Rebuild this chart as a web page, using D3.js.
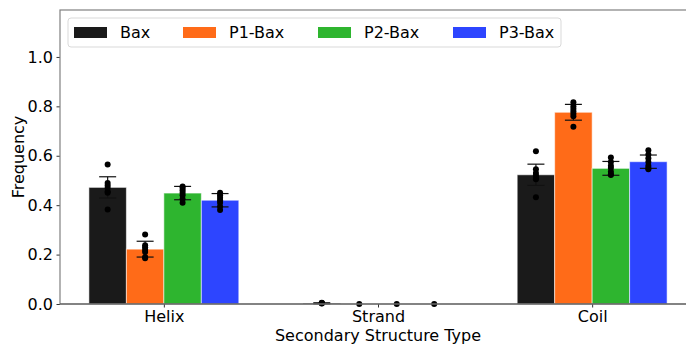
<!DOCTYPE html>
<html>
<head>
<meta charset="utf-8">
<script src="https://cdn.jsdelivr.net/npm/d3@7"></script>
<style>
  body { margin: 0; background: #fff; }
  svg { display: block; font-family: "DejaVu Sans", sans-serif; }
</style>
</head>
<body>
<div id="chart"></div>
<script>
const categories = ["Helix", "Strand", "Coil"];
const seriesNames = ["Bax", "P1-Bax", "P2-Bax", "P3-Bax"];
const colours = ["#1a1a1a", "#ff6b18", "#2eb52f", "#2d45ff"];

// bar heights (mean) per series, in category order
const baxMean = [0.472, 0.003, 0.523];
const p1Mean = [0.222, 0.0, 0.776];
const p2Mean = [0.449, 0.0, 0.549];
const p3Mean = [0.420, 0.0, 0.576];

// error bar half widths
const baxErr = [0.043, 0.002, 0.043];
const p1Err = [0.032, 0.0, 0.032];
const p2Err = [0.027, 0.0, 0.028];
const p3Err = [0.027, 0.0, 0.027];

// individual replicate values
const baxPoints = [
  [0.565, 0.49, 0.48, 0.47, 0.455, 0.45, 0.383],
  [0.005, 0.004, 0.003, 0.002],
  [0.618, 0.545, 0.53, 0.52, 0.51, 0.505, 0.432]
];
const p1Points = [
  [0.281, 0.238, 0.23, 0.22, 0.21, 0.19, 0.185],
  [0.0],
  [0.817, 0.80, 0.79, 0.78, 0.77, 0.76, 0.717]
];
const p2Points = [
  [0.476, 0.47, 0.46, 0.45, 0.44, 0.425, 0.41],
  [0.0],
  [0.593, 0.575, 0.56, 0.55, 0.535, 0.525, 0.522]
];
const p3Points = [
  [0.45, 0.44, 0.43, 0.42, 0.41, 0.395, 0.38],
  [0.0],
  [0.622, 0.605, 0.59, 0.575, 0.56, 0.55, 0.545]
];

const yTicks = [0.0, 0.2, 0.4, 0.6, 0.8, 1.0];

const means = [baxMean, p1Mean, p2Mean, p3Mean];
const errs = [baxErr, p1Err, p2Err, p3Err];
const points = [baxPoints, p1Points, p2Points, p3Points];

const W = 686, H = 345;
const margin = { top: 10, left: 60, bottom: 41, right: -10 };
const barW = 0.175;
const fs = "16px";

const svg = d3.select("#chart")
  .append("svg")
  .attr("width", W)
  .attr("height", H);

const x = d3.scaleLinear()
  .domain([-0.485, 2.485])
  .range([margin.left, W - margin.right]);

const y = d3.scaleLinear()
  .domain([0, 1.19])
  .range([H - margin.bottom, margin.top]);

// offset of series s within a group
const offset = s => (s - 1.5) * barW;

// build flat tables
const bars = [];
const dots = [];
seriesNames.forEach((name, s) => {
  categories.forEach((cat, c) => {
    bars.push({ s, c, v: means[s][c], e: errs[s][c] });
    points[s][c].forEach(p => dots.push({ s, c, v: p }));
  });
});

// bars
svg.append("g")
  .selectAll("rect")
  .data(bars)
  .join("rect")
  .attr("x", d => x(d.c + offset(d.s) - barW / 2))
  .attr("width", d => x(barW) - x(0))
  .attr("y", d => y(d.v))
  .attr("height", d => y(0) - y(d.v))
  .attr("fill", d => colours[d.s])
  .attr("stroke", "#ffffff")
  .attr("stroke-opacity", 0.55)
  .attr("stroke-width", 1);

// error bars
const capHalf = 8.5;
const eb = svg.append("g")
  .selectAll("g")
  .data(bars.filter(d => d.e > 0))
  .join("g")
  .attr("stroke", "#111")
  .attr("stroke-width", 1.2);
eb.append("line")
  .attr("x1", d => x(d.c + offset(d.s)))
  .attr("x2", d => x(d.c + offset(d.s)))
  .attr("y1", d => y(d.v - d.e))
  .attr("y2", d => y(d.v + d.e));
eb.append("line")
  .attr("x1", d => x(d.c + offset(d.s)) - capHalf)
  .attr("x2", d => x(d.c + offset(d.s)) + capHalf)
  .attr("y1", d => y(d.v + d.e))
  .attr("y2", d => y(d.v + d.e));
eb.append("line")
  .attr("x1", d => x(d.c + offset(d.s)) - capHalf)
  .attr("x2", d => x(d.c + offset(d.s)) + capHalf)
  .attr("y1", d => y(d.v - d.e))
  .attr("y2", d => y(d.v - d.e));

// replicate points
svg.append("g")
  .selectAll("circle")
  .data(dots)
  .join("circle")
  .attr("cx", d => x(d.c + offset(d.s)))
  .attr("cy", d => y(d.v))
  .attr("r", 3)
  .attr("fill", "#000");

// axes
const yAxis = svg.append("g")
  .attr("transform", `translate(${margin.left},0)`)
  .call(d3.axisLeft(y).tickValues(yTicks).tickFormat(d3.format(".1f")).tickSizeOuter(0).tickSize(3.5).tickPadding(3.5));
const xAxis = svg.append("g")
  .attr("transform", `translate(0,${H - margin.bottom})`)
  .call(d3.axisBottom(x).tickValues([0, 1, 2]).tickFormat(i => categories[i]).tickSizeOuter(0).tickSize(3.5).tickPadding(3.5));

[yAxis, xAxis].forEach(a => {
  a.selectAll("text").style("font-size", fs).attr("fill", "#000").style("font-family", "DejaVu Sans");
  a.selectAll(".tick line").attr("stroke", "#333");
  a.select(".domain").remove();
});

// frame
svg.append("rect")
  .attr("x", margin.left)
  .attr("y", margin.top)
  .attr("width", x.range()[1] - margin.left)
  .attr("height", y(0) - margin.top)
  .attr("fill", "none")
  .attr("stroke", "#808080")
  .attr("stroke-width", 1.2);
svg.append("line")
  .attr("x1", margin.left).attr("x2", W)
  .attr("y1", y(0)).attr("y2", y(0))
  .attr("stroke", "#555")
  .attr("stroke-width", 1.2);

// axis titles
svg.append("text")
  .attr("x", x(1))
  .attr("y", 341)
  .attr("text-anchor", "middle")
  .style("font-size", fs)
  .text("Secondary Structure Type");
svg.append("text")
  .attr("transform", `translate(24,${(margin.top + y(0)) / 2}) rotate(-90)`)
  .attr("text-anchor", "middle")
  .style("font-size", fs)
  .text("Frequency");

// legend
const legend = svg.append("g");
legend.append("rect")
  .attr("x", 68).attr("y", 18)
  .attr("width", 493).attr("height", 29)
  .attr("rx", 3)
  .attr("fill", "#fff")
  .attr("fill-opacity", 0.85)
  .attr("stroke", "#d9d9d9");
const legendX = [74, 183, 318, 453];
const items = legend.selectAll("g.item")
  .data(seriesNames)
  .join("g")
  .attr("class", "item")
  .attr("transform", (d, i) => `translate(${legendX[i]},27)`);
items.append("rect")
  .attr("width", 33).attr("height", 11)
  .attr("fill", (d, i) => colours[i]);
items.append("text")
  .attr("x", 46).attr("y", 11)
  .style("font-size", fs)
  .text(d => d);
</script>
</body>
</html>
